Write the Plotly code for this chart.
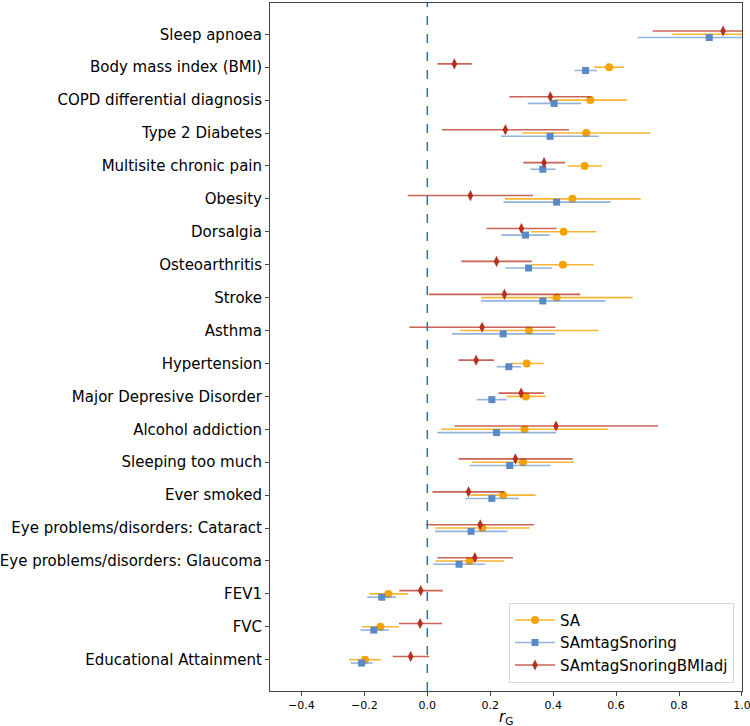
import plotly.graph_objects as go

categories = [
    "Sleep apnoea", "Body mass index (BMI)", "COPD differential diagnosis",
    "Type 2 Diabetes", "Multisite chronic pain", "Obesity", "Dorsalgia",
    "Osteoarthritis", "Stroke", "Asthma", "Hypertension",
    "Major Depresive Disorder", "Alcohol addiction", "Sleeping too much",
    "Ever smoked", "Eye problems/disorders: Cataract",
    "Eye problems/disorders: Glaucoma", "FEV1", "FVC", "Educational Attainment",
]

# SA
sa_rg = [1.04, 0.578, 0.518, 0.505, 0.500, 0.461, 0.433, 0.431, 0.411, 0.323,
         0.316, 0.313, 0.309, 0.304, 0.241, 0.175, 0.134, -0.124, -0.149, -0.198]
sa_lo = [0.779, 0.530, 0.405, 0.302, 0.447, 0.247, 0.330, 0.333, 0.171, 0.104,
         0.265, 0.252, 0.044, 0.143, 0.139, 0.025, 0.025, -0.184, -0.208, -0.248]
sa_hi = [1.30, 0.625, 0.634, 0.709, 0.555, 0.678, 0.537, 0.529, 0.653, 0.544,
         0.370, 0.376, 0.574, 0.466, 0.344, 0.325, 0.244, -0.062, -0.090, -0.148]

# SAmtagSnoring
sn_rg = [0.896, 0.503, 0.403, 0.390, 0.367, 0.411, 0.312, 0.322, 0.367, 0.241,
         0.259, 0.205, 0.220, 0.262, 0.205, 0.139, 0.101, -0.145, -0.170, -0.209]
sn_lo = [0.668, 0.468, 0.319, 0.234, 0.328, 0.242, 0.235, 0.248, 0.170, 0.078,
         0.220, 0.157, 0.032, 0.134, 0.121, 0.025, 0.019, -0.191, -0.213, -0.243]
sn_hi = [1.12, 0.539, 0.489, 0.545, 0.407, 0.583, 0.389, 0.397, 0.566, 0.406,
         0.298, 0.252, 0.409, 0.392, 0.291, 0.254, 0.184, -0.099, -0.122, -0.174]

# SAmtagSnoringBMIadj
bm_rg = [0.940, 0.086, 0.391, 0.248, 0.371, 0.137, 0.299, 0.220, 0.245, 0.174,
         0.155, 0.298, 0.409, 0.280, 0.131, 0.168, 0.151, -0.021, -0.023, -0.053]
bm_lo = [0.716, 0.032, 0.261, 0.047, 0.305, -0.062, 0.188, 0.108, 0.005, -0.057,
         0.099, 0.226, 0.087, 0.099, 0.016, -0.004, 0.032, -0.089, -0.090, -0.110]
bm_hi = [1.17, 0.141, 0.521, 0.450, 0.438, 0.336, 0.411, 0.332, 0.486, 0.407,
         0.212, 0.370, 0.733, 0.462, 0.245, 0.339, 0.272, 0.049, 0.047, 0.006]

series = [
    ("SA", sa_rg, sa_lo, sa_hi, 0.0, "#f5a300", "rgba(245,163,0,0.8)", "circle", 8),
    ("SAmtagSnoring", sn_rg, sn_lo, sn_hi, 0.1, "#5a8ac6", "rgba(90,138,198,0.65)", "square", 7),
    ("SAmtagSnoringBMIadj", bm_rg, bm_lo, bm_hi, -0.1, "#b5301f", "rgba(181,48,31,0.75)", "diamond-tall", 8),
]

fig = go.Figure()
pos = list(range(len(categories)))
for name, rg, lo, hi, off, col, ecol, sym, size in series:
    fig.add_trace(go.Scatter(
        x=rg, y=[p + off for p in pos], mode="markers", showlegend=False,
        marker=dict(color=col, symbol=sym, size=size, line=dict(width=0)),
        error_x=dict(type="data", symmetric=False,
                     array=[h - r for h, r in zip(hi, rg)],
                     arrayminus=[r - l for r, l in zip(rg, lo)],
                     color=ecol, thickness=1.6, width=0),
    ))
    # legend entry (marker + line like matplotlib errorbar)
    fig.add_trace(go.Scatter(
        x=[None], y=[None], mode="lines+markers", name=name,
        marker=dict(color=col, symbol=sym, size=size),
        line=dict(color=ecol, width=1.6),
    ))

fig.add_vline(x=0, line=dict(color="#1f77b4", width=1.5, dash="dash"))

fig.add_annotation(
    text="<i>r</i><sub>G</sub>", xref="x domain", yref="y domain",
    x=0.5, y=-0.038, yanchor="middle", showarrow=False,
    font=dict(size=15),
)

fig.update_layout(
    width=750, height=726,
    paper_bgcolor="white", plot_bgcolor="white",
    margin=dict(l=270, r=8, t=3, b=35),
    font=dict(family="DejaVu Sans", color="black"),
    legend=dict(x=0.983, y=0.012, xanchor="right", yanchor="bottom",
                bgcolor="rgba(255,255,255,0.85)", bordercolor="#d8d8d8",
                borderwidth=1, font=dict(size=15), itemwidth=40,
                tracegroupgap=2),
)
fig.update_xaxes(
    range=[-0.5, 1.0001], tickvals=[-0.4, -0.2, 0.0, 0.2, 0.4, 0.6, 0.8, 1.0],
    ticktext=["\u22120.4", "\u22120.2", "0.0", "0.2", "0.4", "0.6", "0.8", "1.0"],
    tickfont=dict(size=11), ticks="outside", ticklen=4, tickcolor="#444",
    showgrid=False, zeroline=False, showline=True, linecolor="#444",
    linewidth=1, mirror=True, automargin=False, ticklabeloverflow="allow",
)
fig.update_yaxes(
    range=[19.95, -0.95], tickvals=pos, ticktext=categories,
    tickfont=dict(size=15), ticks="outside", ticklen=4, tickcolor="#444",
    showgrid=False, zeroline=False, showline=True, linecolor="#444",
    linewidth=1, mirror=True, automargin=False,
)

# drop the default page margin so the figure sits at the window's corner
fig.write_html("out.html", config={"displayModeBar": False},
               post_script="document.body.style.margin='0';")
